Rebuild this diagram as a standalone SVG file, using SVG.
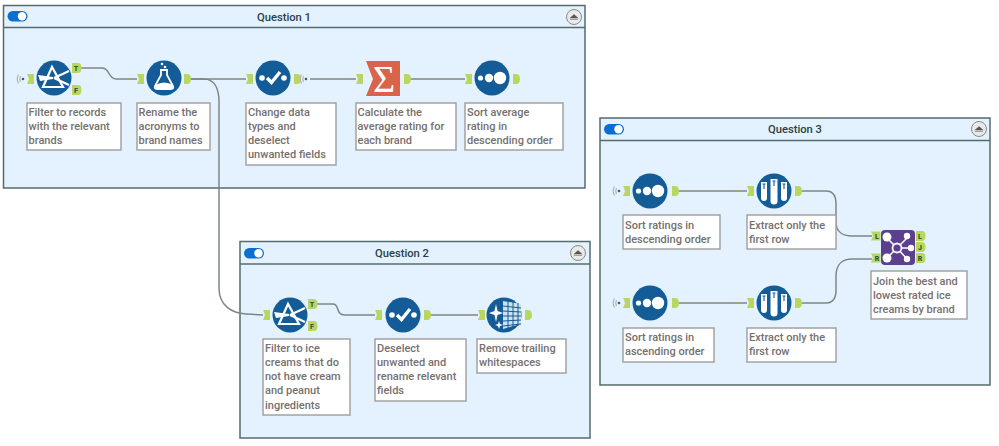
<svg xmlns="http://www.w3.org/2000/svg" width="999" height="446" viewBox="0 0 999 446">
<style>
  text { font-family: Roboto, "Open Sans", sans-serif; }
  .panel { fill: #e3f2fe; stroke: #566c6c; stroke-width: 1.5; }
  .rule { stroke: #566c6c; stroke-width: 1.5; }
  .title { font-size: 11.2px; font-weight: 500; fill: #2c3e46; text-anchor: middle; }
  .note { fill: #ffffff; stroke: #a3a3a3; stroke-width: 1.5; }
  .label { font-size: 11px; font-weight: 500; fill: #75716f; }
  .wire { fill: none; stroke: #7f8585; stroke-width: 1.5; }
  .disc { fill: #135c97; }
  .port { fill: #b9d75e; }
  .tag { font-size: 7px; font-weight: 900; fill: #2f5a3a; text-anchor: middle; }
  .ink { fill: none; stroke: #ffffff; stroke-width: 2.2; }
  .dot { fill: #ffffff; }
  .ping { fill: none; stroke: #b4b4b4; stroke-width: 1.2; }
</style>
<defs>
  <g id="toggle">
    <rect x="0" y="0" width="20" height="10.500" rx="5.250" fill="#0b6fd1"/>
    <circle cx="14.500" cy="5.250" r="4.200" fill="#ffffff"/>
  </g>
  <g id="collapse">
    <circle r="7.500" fill="#e9e9e9" stroke="#8a8a8a" stroke-width="1"/>
    <path d="M-4.500 1.200 L0 -2.800 L4.500 1.200 Z" fill="#555555"/>
    <path d="M-4 2.400 H4" stroke="#9a9a9a" stroke-width="1"/>
  </g>
  <path id="in" class="port" d="M0 -5 H7 V5 H0 L2 0 Z"/>
  <path id="out" class="port" d="M0 -5 H3 Q7 -5 7 0 Q7 5 3 5 H0 Z"/>
  <path id="flag" class="port" d="M0 -4.500 H9.500 V4.500 H0 L2 0 Z"/>
  <path id="pill" class="port" d="M0 -5 H6 Q9.500 -5 9.500 0 Q9.500 5 6 5 H0 Z"/>
  <g id="wave">
    <circle cx="0" cy="0" r="1.300" fill="#555555"/>
    <path class="ping" d="M-2.500 -3 Q-4 0 -2.500 3"/>
    <path class="ping" d="M-4.500 -4.500 Q-7 0 -4.500 4.500"/>
  </g>
  <g id="filter-icon">
    <circle class="disc" r="17.500"/>
    <path class="ink" d="M-2 -11 L-11 9 H9 Z"/>
    <path d="M-16 -3 L-1 -1 V1 L-14 3 Z" fill="#ffffff"/>
    <path class="ink" stroke-width="1.500" d="M0 0 L15 -7"/>
    <path class="ink" stroke-width="1.500" d="M0 0 L15 7"/>
  </g>
  <g id="select-icon">
    <circle class="disc" r="17.500"/>
    <circle class="dot" cx="-11" cy="0" r="2.800"/>
    <circle class="dot" cx="11" cy="0" r="2.800"/>
    <path d="M-6 0 L-1.500 4.500 L7 -6" fill="none" stroke="#ffffff" stroke-width="3.400"/>
  </g>
  <g id="sort-icon">
    <circle class="disc" r="17.500"/>
    <circle class="dot" cx="-11.500" cy="0" r="2.600"/>
    <circle class="dot" cx="-3" cy="0" r="4.200"/>
    <circle class="dot" cx="8" cy="0" r="6.200"/>
  </g>
  <g id="sample-icon">
    <circle class="disc" r="17.500"/>
    <path class="dot" d="M-13 -9 H-7 V7 A3 3 0 0 1 -13 7 Z"/>
    <path class="dot" d="M-3.500 -12 H3.500 V10 A3.500 3.500 0 0 1 -3.500 10 Z"/>
    <path class="dot" d="M7 -9 H13 V7 A3 3 0 0 1 7 7 Z"/>
    <path d="M-11.500 -7 H-8.500 M-10 -7 V-2 M-1.500 -10 H1.500 M0 -10 V-5 M8.500 -7 H11.500 M10 -7 V-2" stroke="#135c97" stroke-width="1.100" fill="none"/>
  </g>
</defs>

<!-- containers -->
<g id="question-1">
  <rect class="panel" x="3.500" y="5.500" width="581.500" height="182.500"/>
  <path class="rule" d="M3.500 27.500 H585"/>
  <use href="#toggle" x="7.500" y="11"/>
  <text class="title" x="284" y="21">Question 1</text>
  <use href="#collapse" x="574" y="17"/>
</g>
<g id="question-2">
  <rect class="panel" x="240" y="241.500" width="350" height="196.500"/>
  <path class="rule" d="M240 264 H590"/>
  <use href="#toggle" x="244" y="248"/>
  <text class="title" x="402" y="257">Question 2</text>
  <use href="#collapse" x="578" y="253"/>
</g>
<g id="question-3">
  <rect class="panel" x="600" y="118" width="390" height="267"/>
  <path class="rule" d="M600 140.500 H990"/>
  <use href="#toggle" x="604" y="124"/>
  <text class="title" x="795" y="133">Question 3</text>
  <use href="#collapse" x="979" y="129"/>
</g>

<!-- connectors -->
<g id="connectors">
  <path class="wire" d="M81 68 H102 C110 68 108 79 116 79 H137"/>
  <path class="wire" d="M190 79 H204 C214 79 219 88 219 102 V288 C219 306 232 313 246 314 L263 315"/>
  <path class="wire" d="M190 79 H246"/>
  <path class="wire" d="M310 79 H356"/>
  <path class="wire" d="M410 79 H465"/>
  <path class="wire" d="M317 304 H333 C340 304 335 315 345 315 H375"/>
  <path class="wire" d="M430 315 H478"/>
  <path class="wire" d="M679 191 H747"/>
  <path class="wire" d="M679 303 H747"/>
  <path class="wire" d="M802 191 H826 C833 191 836 196 836 204 V222 C836 232 843 236 852 236 H872"/>
  <path class="wire" d="M802 303 H826 C833 303 836 298 836 290 V276 C836 264 843 259 852 259 H872"/>
</g>

<!-- tools -->
<g id="filter-brands">
  <use href="#wave" x="23" y="79"/><use href="#in" x="27" y="79"/>
  <use href="#filter-icon" x="54" y="78"/>
  <use href="#pill" x="72" y="68"/><text class="tag" x="76" y="70.500">T</text>
  <use href="#pill" x="72" y="90"/><text class="tag" x="76" y="92.500">F</text>
  <rect class="note" x="27" y="103" width="94" height="47"/>
  <text class="label"><tspan x="28.500" y="116">Filter to records</tspan><tspan x="28.500" y="130">with the relevant</tspan><tspan x="28.500" y="144">brands</tspan></text>
</g>
<g id="rename-acronyms">
  <use href="#in" x="137" y="79"/>
  <g>
    <circle class="disc" cx="164" cy="78" r="17.500"/>
    <path d="M161 70 H167 V75 L173 86 Q174 89 171 89 H157 Q154 89 155 86 L161 75 Z" fill="none" stroke="#ffffff" stroke-width="1.800"/>
    <path d="M155.500 85 Q164 80 173 85 L172 89 H156 Z" fill="#ffffff"/>
    <circle class="dot" cx="162" cy="64" r="1.300"/>
    <circle class="dot" cx="165" cy="67" r="1.300"/>
  </g>
  <use href="#out" x="184" y="79"/>
  <rect class="note" x="137" y="103" width="73" height="47"/>
  <text class="label"><tspan x="138.500" y="116">Rename the</tspan><tspan x="138.500" y="130">acronyms to</tspan><tspan x="138.500" y="144">brand names</tspan></text>
</g>
<g id="change-types">
  <use href="#in" x="246" y="79"/>
  <use href="#select-icon" x="273" y="78"/>
  <use href="#out" x="294" y="79"/>
  <use href="#wave" x="306" y="79"/>
  <rect class="note" x="246" y="103" width="90" height="62"/>
  <text class="label"><tspan x="248" y="116">Change data</tspan><tspan x="248" y="130">types and</tspan><tspan x="248" y="144">deselect</tspan><tspan x="248" y="158">unwanted fields</tspan></text>
</g>
<g id="average-rating">
  <use href="#in" x="356" y="79"/>
  <path d="M366 61 H400 V96 H366 L373 79 Z" fill="#d9644a"/>
  <text x="384" y="92" font-size="38" fill="#ffffff" text-anchor="middle" style="font-family:'Liberation Serif',serif">Σ</text>
  <use href="#out" x="404" y="79"/>
  <rect class="note" x="356" y="103" width="100" height="47"/>
  <text class="label"><tspan x="357.500" y="116">Calculate the</tspan><tspan x="357.500" y="130">average rating for</tspan><tspan x="357.500" y="144">each brand</tspan></text>
</g>
<g id="sort-average">
  <use href="#in" x="465" y="79"/>
  <use href="#sort-icon" x="492" y="78"/>
  <use href="#out" x="513" y="79"/>
  <rect class="note" x="465" y="103" width="98" height="47"/>
  <text class="label"><tspan x="467" y="116">Sort average</tspan><tspan x="467" y="130">rating in</tspan><tspan x="467" y="144">descending order</tspan></text>
</g>

<g id="filter-ingredients">
  <use href="#in" x="263" y="315"/>
  <use href="#filter-icon" x="290" y="315"/>
  <use href="#pill" x="308" y="304"/><text class="tag" x="312" y="306.500">T</text>
  <use href="#pill" x="308" y="326"/><text class="tag" x="312" y="328.500">F</text>
  <rect class="note" x="263" y="339" width="87" height="76"/>
  <text class="label"><tspan x="265" y="352">Filter to ice</tspan><tspan x="265" y="366">creams that do</tspan><tspan x="265" y="380">not have cream</tspan><tspan x="265" y="394">and peanut</tspan><tspan x="265" y="409">ingredients</tspan></text>
</g>
<g id="deselect-rename">
  <use href="#in" x="375" y="315"/>
  <use href="#select-icon" x="403" y="315"/>
  <use href="#out" x="424" y="315"/>
  <rect class="note" x="375" y="339" width="91" height="62"/>
  <text class="label"><tspan x="377" y="352">Deselect</tspan><tspan x="377" y="366">unwanted and</tspan><tspan x="377" y="380">rename relevant</tspan><tspan x="377" y="394">fields</tspan></text>
</g>
<g id="remove-whitespace">
  <use href="#in" x="478" y="315"/>
  <circle class="disc" cx="504" cy="315" r="17.500"/>
  <path d="M503 301 L521 304 V324 L503 329 Z" fill="#cfe0ee"/>
  <path d="M503 306 L521 308 M503 311 L521 312 M503 316 L521 316 M503 321 L521 320 M503 326 L521 324 M508 301 V329 M513 302 V328 M518 303 V326" stroke="#135c97" stroke-width="1" fill="none"/>
  <path d="M496 304 L497.500 311 L503 313 L497.500 315 L496 322 L494.500 315 L489 313 L494.500 311 Z" fill="#ffffff"/>
  <path d="M499 321 L500 324 L503 325 L500 326 L499 329 L498 326 L495 325 L498 324 Z" fill="#ffffff"/>
  <use href="#out" x="525" y="315"/>
  <rect class="note" x="477" y="339" width="89" height="34"/>
  <text class="label"><tspan x="479" y="352">Remove trailing</tspan><tspan x="479" y="366">whitespaces</tspan></text>
</g>

<g id="sort-descending">
  <use href="#wave" x="619" y="191"/><use href="#in" x="623" y="191"/>
  <use href="#sort-icon" x="650" y="191"/>
  <use href="#out" x="672" y="191"/>
  <rect class="note" x="623" y="215" width="97" height="34"/>
  <text class="label"><tspan x="625" y="229">Sort ratings in</tspan><tspan x="625" y="243">descending order</tspan></text>
</g>
<g id="first-row-top">
  <use href="#in" x="747" y="191"/>
  <use href="#sample-icon" x="774" y="191"/>
  <use href="#out" x="795" y="191"/>
  <rect class="note" x="747" y="215" width="89" height="34"/>
  <text class="label"><tspan x="749" y="229">Extract only the</tspan><tspan x="749" y="243">first row</tspan></text>
</g>
<g id="sort-ascending">
  <use href="#wave" x="619" y="303"/><use href="#in" x="623" y="303"/>
  <use href="#sort-icon" x="650" y="303"/>
  <use href="#out" x="672" y="303"/>
  <rect class="note" x="623" y="328" width="91" height="34"/>
  <text class="label"><tspan x="625" y="341">Sort ratings in</tspan><tspan x="625" y="355">ascending order</tspan></text>
</g>
<g id="first-row-bottom">
  <use href="#in" x="747" y="303"/>
  <use href="#sample-icon" x="774" y="303"/>
  <use href="#out" x="795" y="303"/>
  <rect class="note" x="747" y="328" width="89" height="34"/>
  <text class="label"><tspan x="749" y="341">Extract only the</tspan><tspan x="749" y="355">first row</tspan></text>
</g>
<g id="join-brands">
  <use href="#flag" x="871" y="236"/><text class="tag" x="877" y="238.500">L</text>
  <use href="#flag" x="871" y="258"/><text class="tag" x="877" y="260.500">R</text>
  <rect x="881" y="230" width="34" height="35" rx="4" fill="#5c3f8f"/>
  <path d="M897 248 L887 238 M897 248 L908 237 M897 248 L911 248 M897 248 L887 258 M897 248 L907 259" stroke="#ffffff" stroke-width="1.500"/>
  <circle cx="897" cy="248" r="4.500" fill="#5c3f8f" stroke="#ffffff" stroke-width="1.800"/>
  <circle class="dot" cx="887" cy="237" r="4.500"/><circle class="dot" cx="907" cy="236" r="3.200"/><circle class="dot" cx="911" cy="248" r="3.200"/><circle class="dot" cx="887" cy="258" r="4.500"/><circle class="dot" cx="907" cy="259" r="3.200"/>
  <use href="#pill" x="916" y="236"/><text class="tag" x="920" y="238.500">L</text>
  <use href="#pill" x="916" y="247"/><text class="tag" x="920" y="249.500">J</text>
  <use href="#pill" x="916" y="258"/><text class="tag" x="920" y="260.500">R</text>
  <rect class="note" x="871" y="271" width="96" height="48"/>
  <text class="label"><tspan x="873" y="285">Join the best and</tspan><tspan x="873" y="299">lowest rated ice</tspan><tspan x="873" y="313">creams by brand</tspan></text>
</g>
</svg>
